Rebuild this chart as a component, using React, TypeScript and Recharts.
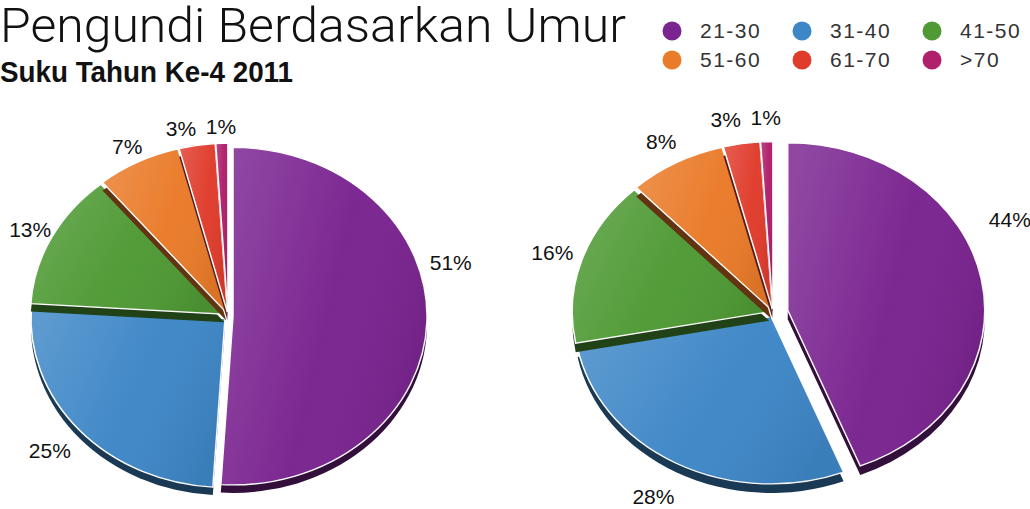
import React from 'react'
import { PieChart, Pie, Cell, Sector } from 'recharts'

// age groups, shown in the legend and used as slice names
const ageGroups = ['21-30', '31-40', '41-50', '51-60', '61-70', '>70']
// share of voters (%) per age group, left and right pie
const leftShares = [51, 25, 13, 7, 3, 1]
const rightShares = [44, 28, 16, 8, 3, 1]
const groupColors = ['#7a2490', '#3e87c7', '#4f9a35', '#ea7b29', '#e03c2c', '#b0206b']

const leftData = ageGroups.map((group, i) => ({ group, value: leftShares[i] }))
const rightData = ageGroups.map((group, i) => ({ group, value: rightShares[i] }))

const RADIAN = Math.PI / 180
const FONT = '"Liberation Sans", Arial, Helvetica, sans-serif'

// darken a hex colour for the pie's side wall
const shade = (hex: string, k: number) => {
  const n = parseInt(hex.slice(1), 16)
  const r = Math.round(((n >> 16) & 255) * k)
  const g = Math.round(((n >> 8) & 255) * k)
  const b = Math.round((n & 255) * k)
  return `rgb(${r},${g},${b})`
}

type SliceOpts = { squash: number; depth: number; bigPop: number; pop: number }

// draws one exploded, slightly tilted slice with a dark side under it
const makeSlice = (o: SliceOpts) => (props: any) => {
  const { cx, cy, innerRadius, outerRadius, startAngle, endAngle, midAngle, fill, payload } = props
  const d = payload && payload.group === ageGroups[0] ? o.bigPop : o.pop
  const dx = d * Math.cos(-midAngle * RADIAN)
  const dy = d * Math.sin(-midAngle * RADIAN)
  const tilt = `translate(0 ${cy}) scale(1 ${o.squash}) translate(0 ${-cy})`
  const sec = { cx, cy, innerRadius, outerRadius, startAngle, endAngle }
  return (
    <g>
      <g transform={`translate(${dx} ${dy + o.depth}) ${tilt}`}>
        <Sector {...sec} fill={shade(fill, 0.42)} stroke="none" />
      </g>
      <g transform={`translate(${dx} ${dy}) ${tilt}`}>
        <Sector {...sec} fill={fill} stroke="#fff" strokeWidth={1.5} />
        <Sector {...sec} fill="url(#shine)" stroke="none" />
      </g>
    </g>
  )
}

// small slices near 12 o'clock crowd their labels; push them apart sideways
const labelNudges = (shares: number[], rx: number, ry: number) => {
  const total = shares.reduce((a, b) => a + b, 0)
  let acc = 0
  const pts = shares.map((v) => {
    const mid = ((acc + v / 2) / total) * 2 * Math.PI
    acc += v
    return { x: rx * Math.sin(mid), y: -ry * Math.cos(mid), nx: rx * Math.sin(mid) }
  })
  for (let i = pts.length - 2; i >= 0; i--) {
    const next = pts[i + 1]
    if (Math.abs(pts[i].y - next.y) < 24 && pts[i].x > next.x - 40) pts[i].x = next.x - 40
  }
  return pts.map((p) => p.x - p.nx)
}

// the exploded slice's label sits a bit before its middle and further out;
// labels under the pie clear its side wall
const makeLabel = (rx: number, ry: number, nudges: number[], bigPop: number) => (p: any) => {
  const big = p.payload && p.payload.group === ageGroups[0]
  const t = big ? 0.4 : 0.5
  const ang = (p.startAngle + t * (p.endAngle - p.startAngle)) * RADIAN
  const push = big ? bigPop * 2 : 0
  const m = -p.midAngle * RADIAN
  const out = Math.sin(-ang) > 0.3 ? 1.07 : 1
  const x = p.cx + out * rx * Math.cos(-ang) + push * Math.cos(m) + (nudges[p.index] || 0)
  const y = p.cy + out * ry * Math.sin(-ang) + push * Math.sin(m)
  return (
    <text
      x={x}
      y={y}
      textAnchor="middle"
      dominantBaseline="central"
      fontSize={21}
      fill="#111"
      fontFamily={FONT}
    >
      {p.value}%
    </text>
  )
}

const leftSlice = makeSlice({ squash: 0.87, depth: 8, bigPop: 5, pop: 4 })
const rightSlice = makeSlice({ squash: 0.85, depth: 9, bigPop: 15, pop: 4 })

export default function App() {
  return (
    <div style={{ position: 'absolute', left: 0, top: 0, width: 1030, height: 509, background: '#fff', overflow: 'hidden' }}>
      <PieChart width={1030} height={509} margin={{ top: 0, right: 0, bottom: 0, left: 0 }}>
        <Pie
          data={leftData}
          dataKey="value"
          nameKey="group"
          cx={228}
          cy={316}
          outerRadius={194}
          startAngle={90}
          endAngle={-270}
          isAnimationActive={false}
          shape={leftSlice}
          activeShape={leftSlice}
          inactiveShape={leftSlice}
          label={makeLabel(222, 190, labelNudges(leftShares, 222, 190), 5)}
          labelLine={false}
        >
          {leftData.map((entry, i) => (
            <Cell key={`l-${entry.group}`} fill={groupColors[i]} />
          ))}
        </Pie>
        <Pie
          data={rightData}
          dataKey="value"
          nameKey="group"
          cx={773}
          cy={313}
          outerRadius={197}
          startAngle={90}
          endAngle={-270}
          isAnimationActive={false}
          shape={rightSlice}
          activeShape={rightSlice}
          inactiveShape={rightSlice}
          label={makeLabel(232, 196, labelNudges(rightShares, 232, 196), 15)}
          labelLine={false}
        >
          {rightData.map((entry, i) => (
            <Cell key={`r-${entry.group}`} fill={groupColors[i]} />
          ))}
        </Pie>
      </PieChart>

      {/* titles and legend on top */}
      <svg width={1030} height={509} style={{ position: 'absolute', left: 0, top: 0, pointerEvents: 'none' }}>
        <defs>
          <linearGradient id="shine" x1="0" y1="0.2" x2="1" y2="0.6">
            <stop offset="0%" stopColor="#fff" stopOpacity={0.16} />
            <stop offset="55%" stopColor="#fff" stopOpacity={0.02} />
            <stop offset="100%" stopColor="#000" stopOpacity={0.07} />
          </linearGradient>
        </defs>
        <text
          x={0}
          y={42}
          fontSize={48}
          fontWeight={300}
          fontFamily="Roboto, Lato, sans-serif"
          fill="#111"
          textLength={626}
          lengthAdjust="spacingAndGlyphs"
        >
          Pengundi Berdasarkan Umur
        </text>
        <text
          x={0}
          y={82}
          fontSize={30}
          fontWeight={700}
          fontFamily={FONT}
          fill="#111"
          textLength={293}
          lengthAdjust="spacingAndGlyphs"
        >
          Suku Tahun Ke-4 2011
        </text>
        {ageGroups.map((g, i) => {
          const col = i % 3
          const row = Math.floor(i / 3)
          const x = 672 + col * 130
          const y = 31 + row * 29
          return (
            <g key={g}>
              <circle cx={x} cy={y} r={9.5} fill={groupColors[i]} />
              <text x={x + 28} y={y + 7} fontSize={21} fontFamily={FONT} fill="#333" letterSpacing={1.5}>
                {g}
              </text>
            </g>
          )
        })}
      </svg>
    </div>
  )
}
